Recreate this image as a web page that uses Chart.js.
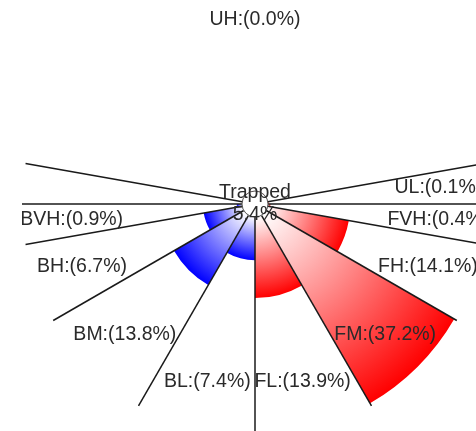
<!DOCTYPE html>
<html>
<head>
<meta charset="utf-8">
<script src="https://cdn.jsdelivr.net/npm/chart.js@4/dist/chart.umd.min.js"></script>
<style>
  html, body { margin: 0; padding: 0; background: #fff; overflow: hidden; width: 476px; height: 431px; }
  #myChart { position: absolute; left: 22px; top: -29px; }
</style>
</head>
<body>
<canvas id="myChart" width="466" height="466"></canvas>
<script>
// sectors, clockwise from the upper-left boundary
const categories = ['UH', 'UL', 'FVH', 'FH', 'FM', 'FL', 'BL', 'BM', 'BH', 'BVH', ''];
const shares = [0.0, 0.1, 0.4, 14.1, 37.2, 13.9, 7.4, 13.8, 6.7, 0.9, 0.0];
const sectorAngles = [160, 10, 10, 20, 30, 30, 30, 30, 20, 10, 10];
const trapped = { label: 'Trapped', value: 5.4 };

const RED = 'rgb(255,0,0)';
const BLUE = 'rgb(0,0,255)';
const TEXT = '#2a2a2a';
const FONT = '19.5px "Liberation Sans", Arial, sans-serif';

const fill = (ctx) => {
  const chart = ctx.chart;
  const scale = chart.scales.r;
  const base = categories[ctx.dataIndex] && categories[ctx.dataIndex].startsWith('B') ? BLUE : RED;
  if (!scale || ctx.type !== 'data') return base;
  const cx = scale.xCenter, cy = scale.yCenter;
  const r0 = scale.getDistanceFromCenterForValue(0);
  const r = scale.getDistanceFromCenterForValue(ctx.raw);
  if (![cx, cy, r, r0].every(Number.isFinite) || r <= r0) return base;
  const g = chart.ctx.createRadialGradient(cx, cy, r0, cx, cy, r);
  g.addColorStop(0, '#fff');
  g.addColorStop(1, base);
  return g;
};

const sectorDecor = {
  id: 'sectorDecor',
  afterDatasetsDraw(chart) {
    const { ctx } = chart;
    const scale = chart.scales.r;
    const cx = scale.xCenter, cy = scale.yCenter, R = scale.drawingArea;
    const hub = scale.getDistanceFromCenterForValue(0);
    const arcs = chart.getDatasetMeta(0).data;
    ctx.save();
    // boundary lines
    ctx.strokeStyle = '#1a1a1a';
    ctx.lineWidth = 1.5;
    arcs.forEach(a => {
      ctx.beginPath();
      ctx.moveTo(cx + hub * Math.cos(a.startAngle), cy + hub * Math.sin(a.startAngle));
      ctx.lineTo(cx + R * Math.cos(a.startAngle), cy + R * Math.sin(a.startAngle));
      ctx.stroke();
    });
    // hub
    ctx.beginPath();
    ctx.arc(cx, cy, hub, 0, Math.PI * 2);
    ctx.fillStyle = '#fff';
    ctx.fill();
    ctx.strokeStyle = '#555';
    ctx.lineWidth = 1;
    ctx.stroke();
    // labels
    ctx.font = FONT;
    ctx.fillStyle = TEXT;
    ctx.textAlign = 'center';
    ctx.textBaseline = 'middle';
    arcs.forEach((a, i) => {
      if (!categories[i]) return;
      const mid = (a.startAngle + a.endAngle) / 2;
      const d = 0.79 * R;
      ctx.fillText(`${categories[i]}:(${shares[i].toFixed(1)}%)`, cx + d * Math.cos(mid), cy + d * Math.sin(mid));
    });
    ctx.fillText(trapped.label, cx, cy - 11);
    ctx.fillText(`${trapped.value.toFixed(1)}%`, cx, cy + 11);
    ctx.restore();
  }
};

new Chart(document.getElementById('myChart'), {
  type: 'polarArea',
  data: {
    labels: categories,
    datasets: [{
      data: shares,
      angle: sectorAngles,
      backgroundColor: fill,
      borderWidth: 0
    }]
  },
  options: {
    responsive: false,
    animation: false,
    events: [],
    plugins: { legend: { display: false }, tooltip: { enabled: false } },
    scales: {
      r: {
        startAngle: -80,
        min: -2.23,
        max: 37.7,
        ticks: { display: false },
        grid: { display: false },
        angleLines: { display: false },
        pointLabels: { display: false }
      }
    }
  },
  plugins: [sectorDecor]
});
</script>
</body>
</html>
